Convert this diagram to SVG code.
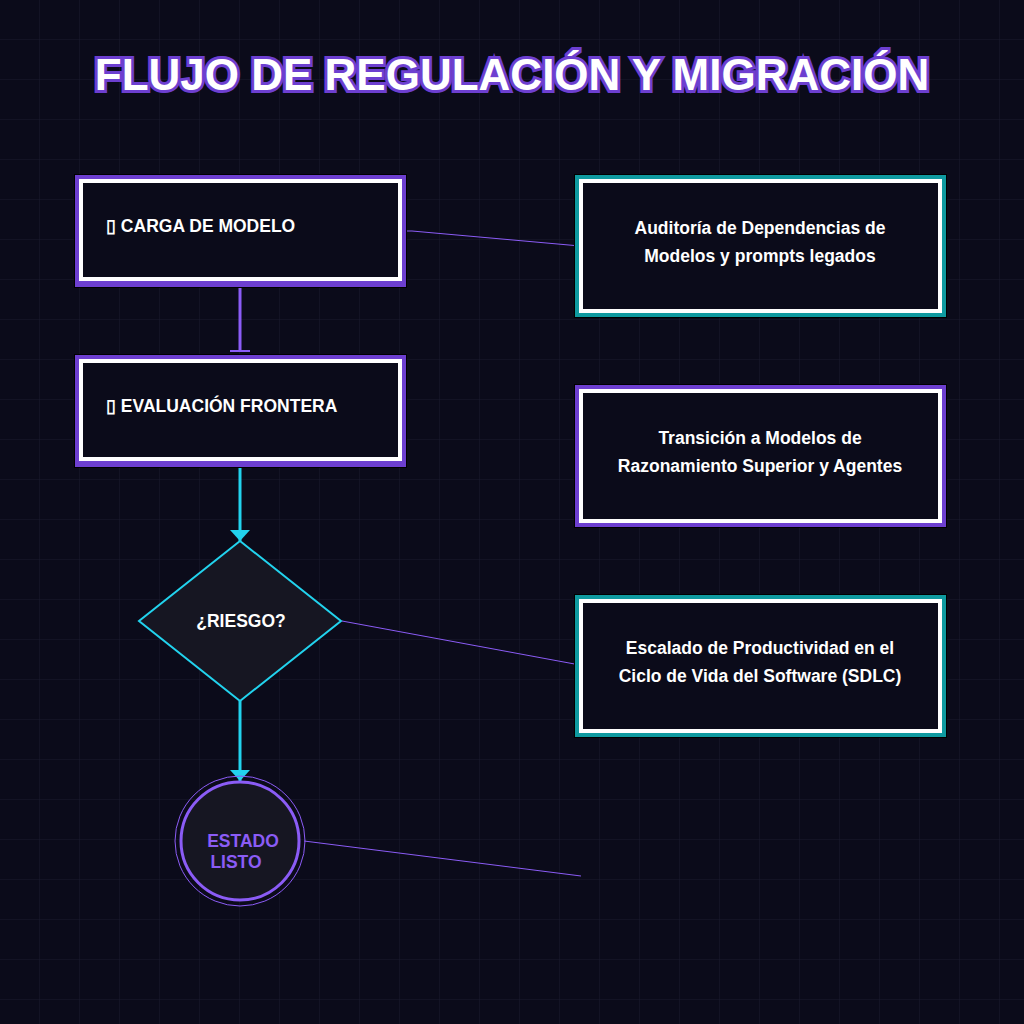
<svg xmlns="http://www.w3.org/2000/svg" width="1024" height="1024" viewBox="0 0 1024 1024">
<defs>
<pattern id="grid" width="40" height="40" patternUnits="userSpaceOnUse"><path d="M40 0V40H0" fill="none" stroke="#1a1a2e" stroke-width="1"/></pattern>
<marker id="arr" markerWidth="11" markerHeight="20" refX="11" refY="10" orient="auto" markerUnits="userSpaceOnUse" viewBox="0 0 11 20"><path d="M0 0L11 10L0 20Z" fill="#22d3ee"/></marker>
<marker id="tee" markerWidth="4" markerHeight="22" refX="2" refY="11" orient="auto" markerUnits="userSpaceOnUse"><rect x="1" y="1" width="2" height="20" fill="#8b5cf6"/></marker>
</defs>
<style>
.t{font-family:"Liberation Sans",Arial,sans-serif;font-weight:bold;fill:#fff}
.in{fill:#0b0b1a;stroke:#fff;stroke-width:4}
.op{fill:none;stroke:#6d3fd0;stroke-width:6}
.ot{fill:none;stroke:#0f9aa0;stroke-width:6}
.sh{fill:#000}
</style>
<rect width="1024" height="1024" fill="#0b0b1a"/>
<rect width="1024" height="1024" fill="url(#grid)"/>
<text x="512" y="90" text-anchor="middle" class="t" font-size="44" fill="#fff" stroke="#6d3fd0" stroke-width="6" paint-order="stroke">FLUJO DE REGULACIÓN Y MIGRACIÓN</text>
<g id="connectors">
<line x1="240" y1="282" x2="240" y2="351" stroke="#8b5cf6" stroke-width="3" marker-end="url(#tee)"/>
<line x1="240" y1="461" x2="240" y2="541" stroke="#22d3ee" stroke-width="3" marker-end="url(#arr)"/>
<line x1="240" y1="701" x2="240" y2="781" stroke="#22d3ee" stroke-width="3" marker-end="url(#arr)"/>
<path d="M400 231H412L580 246" fill="none" stroke="#8b5cf6" stroke-width="1"/>
<line x1="342" y1="621" x2="580" y2="665" stroke="#8b5cf6" stroke-width="1"/>
<line x1="304" y1="841" x2="581" y2="876" stroke="#8b5cf6" stroke-width="1"/>
</g>
<g id="n1"><rect x="74" y="174" width="333" height="114" class="sh"/><rect x="78" y="178" width="325" height="106" class="op"/><rect x="81" y="181" width="319" height="98" class="in"/><text x="106" y="232" class="t" font-size="17.5">▯ CARGA DE MODELO</text></g>
<g id="n2"><rect x="74" y="354" width="333" height="114" class="sh"/><rect x="78" y="358" width="325" height="106" class="op"/><rect x="81" y="361" width="319" height="98" class="in"/><text x="106" y="412" class="t" font-size="17.5">▯ EVALUACIÓN FRONTERA</text></g>
<g id="n3"><path d="M240 541L341 621L240 701L139 621Z" fill="#161622" stroke="#22d3ee" stroke-width="2"/><text x="241" y="627" text-anchor="middle" class="t" font-size="17.5">¿RIESGO?</text></g>
<g id="n4"><circle cx="240" cy="841" r="65" fill="none" stroke="#8b5cf6" stroke-width="1"/><circle cx="240" cy="841" r="59" fill="#161622" stroke="#8b5cf6" stroke-width="3"/><text text-anchor="middle" class="t" font-size="17.5" style="fill:#8b5cf6"><tspan x="243" y="847">ESTADO</tspan><tspan x="236" y="868">LISTO</tspan></text></g>
<g id="b1"><rect x="574" y="174" width="373" height="144" class="sh"/><rect x="578" y="178" width="365" height="136" class="ot"/><rect x="581" y="181" width="359" height="130" class="in"/><text text-anchor="middle" class="t" font-size="17.5"><tspan x="760" y="234">Auditoría de Dependencias de</tspan><tspan x="760" y="262">Modelos y prompts legados</tspan></text></g>
<g id="b2"><rect x="574" y="384" width="373" height="144" class="sh"/><rect x="578" y="388" width="365" height="136" class="op"/><rect x="581" y="391" width="359" height="130" class="in"/><text text-anchor="middle" class="t" font-size="17.5"><tspan x="760" y="444">Transición a Modelos de</tspan><tspan x="760" y="472">Razonamiento Superior y Agentes</tspan></text></g>
<g id="b3"><rect x="574" y="594" width="373" height="144" class="sh"/><rect x="578" y="598" width="365" height="136" class="ot"/><rect x="581" y="601" width="359" height="130" class="in"/><text text-anchor="middle" class="t" font-size="17.5"><tspan x="760" y="654">Escalado de Productividad en el</tspan><tspan x="760" y="682">Ciclo de Vida del Software (SDLC)</tspan></text></g>
</svg>
